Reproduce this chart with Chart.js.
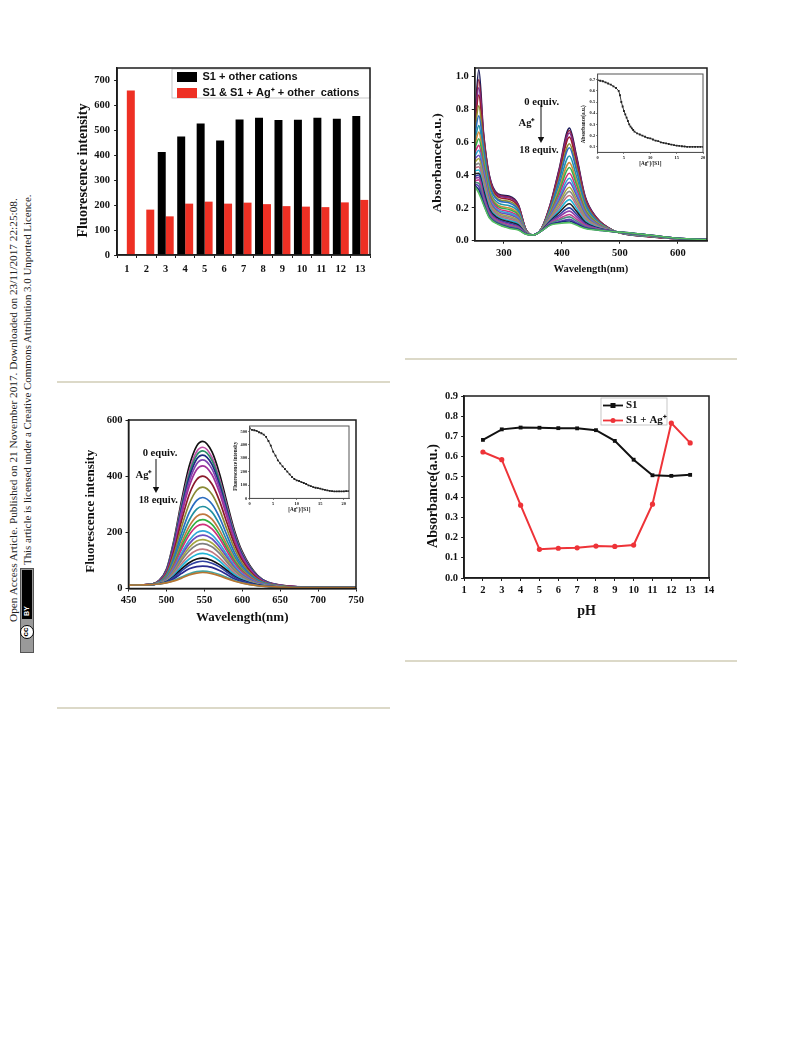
<!DOCTYPE html>
<html>
<head>
<meta charset="utf-8">
<script src="https://cdn.jsdelivr.net/npm/chart.js@4"></script>
<style>
html,body{margin:0;padding:0;background:#fff;width:793px;height:1039px;overflow:hidden}
#page{position:absolute;left:0;top:0;width:793px;height:1039px}
canvas{position:absolute;display:block;filter:blur(.6px)}
.t{position:absolute;white-space:nowrap;font-family:"Liberation Serif",serif;font-weight:bold;color:#111;transform:translate(-50%,-50%);line-height:1;filter:blur(.4px)}
.side{position:absolute;white-space:nowrap;font-family:"Liberation Serif",serif;color:#222;transform-origin:0 0;transform:rotate(-90deg);line-height:1}
.rule{position:absolute;height:2px;background:#dcd9c8}
</style>
</head>
<body>
<div id="page"></div>
<script>
/* ---------- bar chart ---------- */
const barCategories = ["1","2","3","4","5","6","7","8","9","10","11","12","13"];
const barBlack = [null,null,413,475,527,459,543,550,541,542,550,546,557];
const barRed = [660,182,155,206,214,206,210,204,196,194,192,211,221];
const barTicksY = [0,100,200,300,400,500,600,700];

/* ---------- pH chart ---------- */
const phValues = [2,3,4,5,6,7,8,9,10,11,12,13];
const phS1 = [.683,.735,.744,.743,.741,.74,.731,.678,.585,.508,.505,.51];
const phS1Ag = [.623,.585,.36,.142,.147,.149,.158,.156,.163,.365,.766,.668];
const phTicksX = [1,2,3,4,5,6,7,8,9,10,11,12,13,14];
const phTicksY = [0,.1,.2,.3,.4,.5,.6,.7,.8,.9];

/* ---------- absorbance titration (values in thousandths of a.u.) ---------- */
const absWavelengths = [250,257,265,275,290,310,325,338,350,365,380,395,413,425,440,460,490,510,550,600,650];
const absRows = [
[720,1040,660,400,285,270,220,70,35,75,220,430,685,520,270,140,60,40,25,12,5],
[710,980,649,393,280,265,216,69,35,75,217,422,670,509,265,138,60,40,25,12,5],
[700,930,637,386,275,260,212,68,35,74,214,413,655,498,260,136,60,41,26,12,5],
[683,885,618,375,267,251,205,67,35,74,208,399,630,479,251,133,60,41,26,12,5],
[656,820,587,357,254,238,194,65,35,73,199,376,590,450,238,128,59,42,27,12,5],
[638,760,568,346,246,229,188,64,35,72,194,362,565,431,229,124,59,42,27,13,5],
[605,700,530,323,230,212,174,61,35,71,183,334,515,394,212,118,59,43,28,13,6],
[578,660,499,305,217,199,163,59,35,70,174,311,475,365,199,113,58,44,29,13,6],
[557,620,477,292,208,189,155,57,35,69,168,294,445,343,189,109,58,44,29,13,6],
[534,580,450,276,197,177,146,56,35,68,160,275,410,317,177,104,58,45,30,13,6],
[513,550,427,262,187,167,138,54,35,67,154,258,380,295,167,100,57,45,30,13,6],
[496,520,407,251,179,158,131,53,35,66,148,243,355,276,158,97,57,46,31,14,6],
[476,500,385,237,169,148,123,51,35,66,142,227,325,254,148,93,57,46,31,14,6],
[459,470,365,226,161,139,116,50,35,65,136,212,300,235,139,90,57,47,32,14,6],
[442,450,346,215,153,131,109,49,35,64,131,198,275,217,131,87,56,47,32,14,6],
[425,430,327,203,145,122,103,47,35,64,125,184,250,198,122,83,56,48,33,14,6],
[408,410,308,192,137,114,96,46,35,63,120,170,225,180,114,80,56,48,33,14,7],
[391,400,289,181,129,106,89,45,35,62,115,156,200,162,106,77,56,48,33,15,7],
[378,385,274,172,123,99,84,44,35,62,110,145,180,147,99,74,56,49,34,15,7],
[364,370,258,163,116,92,78,43,35,61,106,133,160,132,92,72,55,49,34,15,7],
[354,350,247,156,111,87,74,42,35,61,103,125,145,121,87,70,55,49,34,15,7],
[344,330,235,149,106,82,70,41,35,61,99,116,130,110,82,68,55,50,35,15,7],
[337,310,227,144,103,78,68,41,35,60,97,111,120,102,78,66,55,50,35,15,7],
[330,290,220,140,100,75,65,40,35,60,95,105,110,95,75,65,55,50,35,15,7]
];
const absColors = ["#1a1a5a","#8a1f3a","#7d2c8f","#9a1c2e","#8f8f30","#2a6cc0","#1f95a8","#d08a3a","#35b04a","#d0307a","#30a5d8","#6a50c0","#a5a53f","#8a8a8a","#c07080","#20b5d5","#222222","#3040a0","#8f3fa8","#c04090","#4a8f80","#5a3fb0","#1a2a80","#55c060"];
const absTicksX = [300,400,500,600];
const absTicksY = [0,.2,.4,.6,.8,1];

/* ---------- absorbance inset ---------- */
const absInsetX = [0,.5,1,1.5,2,2.5,3,3.5,4,4.25,4.5,4.75,5,5.25,5.5,5.75,6,6.25,6.5,6.75,7,7.5,8,8.5,9,9.5,10,10.5,11,11.5,12,12.5,13,13.5,14,14.5,15,15.5,16,16.5,17,17.5,18,18.5,19,19.5,20];
const absInsetY = [.695,.69,.685,.675,.665,.655,.64,.625,.6,.56,.5,.46,.42,.39,.36,.33,.3,.28,.265,.25,.235,.22,.21,.2,.19,.18,.175,.165,.155,.15,.14,.135,.13,.125,.12,.115,.11,.108,.105,.103,.1,.1,.1,.1,.1,.1,.1];
const absInsetTicksX = [0,5,10,15,20];
const absInsetTicksY = [.1,.2,.3,.4,.5,.6,.7];

/* ---------- fluorescence titration ---------- */
const fluWavelengths = [450,480,490,500,510,520,530,540,548,560,570,580,590,600,620,650,700,750];
const fluRows = [
[12,15,28,68,173,314,435,508,524,487,409,304,204,131,47,12,4,3],
[12,15,27,65,166,302,417,488,503,468,392,292,196,126,45,12,4,3],
[12,15,27,64,162,294,407,475,490,456,382,284,191,122,44,11,4,3],
[12,15,26,62,157,285,394,461,475,442,370,276,185,119,43,11,4,3],
[12,15,26,60,151,275,380,444,458,426,357,266,179,114,41,11,4,3],
[12,15,25,57,144,262,363,424,437,406,341,253,170,109,39,10,4,3],
[12,15,24,54,134,242,334,388,400,372,312,232,156,100,36,10,4,3],
[12,15,23,50,122,219,301,350,361,336,282,209,141,90,33,9,4,3],
[12,14,22,46,110,197,270,314,324,301,253,188,126,81,30,9,4,3],
[12,14,21,42,100,178,243,283,292,272,228,169,114,73,27,8,4,3],
[12,14,20,39,91,162,221,257,265,247,207,154,103,67,25,8,3,3],
[12,14,20,37,85,150,204,238,245,228,191,142,96,62,23,8,3,3],
[12,14,19,35,80,140,190,221,228,212,178,132,89,58,22,7,3,3],
[12,14,19,33,72,126,171,199,205,191,160,119,80,52,20,7,3,3],
[12,14,18,31,68,117,159,184,190,177,148,110,74,48,19,7,3,3],
[12,14,18,29,63,108,146,169,174,162,136,101,68,44,17,6,3,3],
[12,14,18,28,59,100,134,155,160,149,125,93,63,41,16,6,3,3],
[12,14,17,26,53,88,118,136,140,130,109,82,55,36,15,6,3,3],
[12,14,17,25,48,79,105,121,125,116,98,73,49,33,14,5,3,3],
[12,14,17,24,43,70,92,105,108,100,85,64,43,29,13,5,3,3],
[12,14,17,23,40,63,83,94,97,90,77,58,40,27,12,5,3,3],
[12,14,16,22,35,54,70,78,80,75,64,49,34,23,11,5,3,3],
[12,14,16,21,29,41,52,60,62,58,50,39,28,20,10,5,3,3],
[12,14,16,20,27,37,48,55,57,53,45,35,26,19,10,5,3,3]
];
const fluColors = ["#111111","#c050a8","#2a8f68","#1c2a80","#7f45b0","#a0309a","#8b1a2b","#8a8a35","#2a6cc0","#2090a0","#c07840","#30b040","#d0307a","#30a8d8","#6a50c0","#a5a540","#808080","#c07880","#20b5d5","#111111","#3040a0","#2a2a90","#40a5a5","#b87530"];
const fluTicksX = [450,500,550,600,650,700,750];
const fluTicksY = [0,200,400,600];

/* ---------- fluorescence inset ---------- */
const fluInsetX = [0,.5,1,1.5,2,2.5,3,3.5,4,4.5,5,5.5,6,6.5,7,7.5,8,8.5,9,9.5,10,10.5,11,11.5,12,12.5,13,13.5,14,14.5,15,15.5,16,16.5,17,17.5,18,18.5,19,19.5,20,20.5,21];
const fluInsetY = [525,513,510,505,495,488,478,460,430,395,350,320,285,262,240,220,200,180,160,145,135,130,122,115,108,98,92,85,80,77,73,68,64,60,56,54,52,52,53,52,53,54,54];
const fluInsetTicksX = [0,5,10,15,20];
const fluInsetTicksY = [0,100,200,300,400,500];

/* ---------- helpers ---------- */
const page = document.getElementById('page');
const SERIF = '"Liberation Serif", serif';
const SANS = '"Liberation Sans", sans-serif';
const AX = '#1c1c1c';

const framePlugin = {
  id:'frame',
  afterDatasetsDraw(chart, a, o){
    const c=chart.chartArea, x=chart.ctx;
    x.save(); x.strokeStyle=o.color||AX; x.lineWidth=o.width||1.5;
    x.strokeRect(c.left,c.top,c.right-c.left,c.bottom-c.top); x.restore();
  }
};
const legendPlace = {
  id:'legendPlace',
  afterLayout(chart, a, o){
    if(!o.left) return;
    const L=chart.legend, r=chart.canvas.getBoundingClientRect();
    L.left=o.left-r.left; L.top=o.top-r.top; L.right=L.left+o.width; L.bottom=L.top+o.height;
  },
  beforeDraw(chart, a, o){
    if(!o.box) return;
    const r=chart.canvas.getBoundingClientRect(), x=chart.ctx, b=o.box;
    x.save(); x.fillStyle='#fff'; x.strokeStyle='#b8b8b8'; x.lineWidth=.8;
    x.fillRect(b[0]-r.left,b[1]-r.top,b[2],b[3]);
    x.strokeRect(b[0]-r.left,b[1]-r.top,b[2],b[3]);
    x.restore();
  }
};

function make(g, type, data, s){
  const xTitleH = (g.xc - g.b) + s.xFont/2 + 2;
  const yTitleW = (g.l - g.yc) + s.yFont/2 + 2;
  const T = g.T===undefined?8:g.T, R = g.R===undefined?10:g.R;
  const cv = document.createElement('canvas');
  const w = yTitleW + (g.r-g.l) + R, h = T + (g.b-g.t) + xTitleH;
  cv.width=Math.round(w); cv.height=Math.round(h);
  cv.style.left=Math.round(g.l-yTitleW)+'px'; cv.style.top=(g.t-T)+'px';
  cv.style.width=cv.width+'px'; cv.style.height=cv.height+'px';
  page.appendChild(cv);
  const common = (ticks, fmt, pad) => ({
    grid:{drawOnChartArea:false,drawTicks:true,tickLength:s.tick||3,color:AX,lineWidth:s.tickW||1},
    border:{display:true,color:AX,width:s.bw||1.5},
    ticks:{font:{family:SERIF,weight:'bold',size:s.tickFont},color:'#111',padding:pad,maxRotation:0,minRotation:0,autoSkip:false,callback:fmt},
    afterBuildTicks:ticks?(sc=>{sc.ticks=ticks.map(v=>({value:v}));}):undefined
  });
  const xAxis = Object.assign(common(s.xTicks,s.xFmt,s.xPad),{
    type:s.xType||'linear',
    title:{display:!!s.xTitle,text:s.xTitle,color:'#111',font:{family:SERIF,weight:'bold',size:s.xFont,lineHeight:1},padding:{top:0,bottom:2}},
    afterFit(sc){sc.height=xTitleH;sc.paddingLeft=0;sc.paddingRight=0;}
  });
  if(s.xMin!==undefined){xAxis.min=s.xMin;xAxis.max=s.xMax;}
  const yAxis = Object.assign(common(s.yTicks,s.yFmt,s.yPad),{
    type:'linear',min:s.yMin,max:s.yMax,
    title:{display:true,text:s.yTitle,color:'#111',font:{family:SERIF,weight:'bold',size:s.yFont,lineHeight:1},padding:{top:2,bottom:0}},
    afterFit(sc){
      sc.width=yTitleW;sc.paddingTop=0;sc.paddingBottom=0;
      if(!sc._shifted){
        const o=sc.drawTitle, dy=s.yShift||0;
        sc.drawTitle=function(){const c=this.ctx;c.save();c.translate(0,dy);o.call(this);c.restore();};
        sc._shifted=true;
      }
    }
  });
  return new Chart(cv,{
    type, data,
    plugins:[framePlugin,legendPlace],
    options:{
      responsive:false,animation:false,devicePixelRatio:1,
      layout:{padding:{top:T,right:R,left:0,bottom:0}},
      scales:{x:xAxis,y:yAxis},
      plugins:{
        legend:s.legend||{display:false},
        tooltip:{enabled:false},
        legendPlace:s.place||{},
        frame:{width:s.frameW||1.5,color:s.frameColor||AX}
      }
    }
  });
}
const xy=(xs,ys)=>xs.map((v,i)=>({x:v,y:ys[i]}));
const lineKey=(col,mark)=>{
  const c=document.createElement('canvas');c.width=20;c.height=7;
  const x=c.getContext('2d');x.strokeStyle=col;x.fillStyle=col;x.lineWidth=1.8;
  x.beginPath();x.moveTo(0,3.5);x.lineTo(20,3.5);x.stroke();
  if(mark==='rect')x.fillRect(7.5,1,5,5);else{x.beginPath();x.arc(10,3.5,2.5,0,7);x.fill();}
  return c;
};

/* ---------- bar chart ---------- */
make({l:117,t:68,r:370,b:255,xc:272,yc:83},'bar',{
  labels:barCategories,
  datasets:[
    {label:'S1 + other cations',data:barBlack,backgroundColor:'#000000',barPercentage:1,categoryPercentage:.82},
    {label:'S1 & S1 + Ag\u207A + other  cations',data:barRed,backgroundColor:'#ee3024',barPercentage:1,categoryPercentage:.82}
  ]
},{
  xType:'category',xTitle:'',xFont:10,yTitle:'Fluorescence intensity',yFont:14.2,yShift:9,
  tickFont:10.5,xPad:5,yPad:4,yMin:0,yMax:750,yTicks:barTicksY,
  xFmt:(v,i)=>barCategories[i],yFmt:v=>v,
  legend:{display:true,position:'chartArea',align:'start',
    labels:{boxWidth:20,boxHeight:10,padding:5,color:'#111',font:{family:SANS,weight:'bold',size:11}}},
  place:{left:172,top:66.5,width:198,height:70,box:[172,69,198,29]}
});

/* ---------- absorbance titration ---------- */
make({l:475,t:68,r:707,b:241,xc:270,yc:438,R:14},'line',{
  datasets:absRows.map((row,i)=>({label:String(i),data:xy(absWavelengths,row.map(v=>v/1000)),borderColor:absColors[i],borderWidth:1.6,pointRadius:0,cubicInterpolationMode:'monotone',order:absRows.length-i}))
},{
  xTitle:'Wavelength(nm)',xFont:10.5,yTitle:'Absorbance(a.u.)',yFont:13.5,yShift:8.5,
  tickFont:10.5,xPad:3,yPad:3,xMin:250,xMax:650,yMin:0,yMax:1.05,xTicks:absTicksX,yTicks:absTicksY,
  xFmt:v=>v,yFmt:v=>Number(v).toFixed(1)
});

/* ---------- absorbance inset ---------- */
make({l:598,t:73,r:703,b:152,xc:163,yc:584,T:3,R:4},'line',{
  datasets:[{label:'inset',data:xy(absInsetX,absInsetY),borderColor:'#222',borderWidth:.9,pointStyle:'rect',pointRadius:1.3,pointBackgroundColor:'#222',pointBorderWidth:0}]
},{
  xTitle:'[Ag\u207A]/[S1]',xFont:5.2,yTitle:'Absorbance(a.u.)',yFont:5.2,yShift:11,
  tickFont:4.4,tick:1.5,tickW:.6,bw:.8,frameW:1,frameColor:'#555',xPad:1.5,yPad:1,xMin:0,xMax:20,yMin:.05,yMax:.75,
  xTicks:absInsetTicksX,yTicks:absInsetTicksY,xFmt:v=>v,yFmt:v=>Number(v).toFixed(1)
});

/* ---------- fluorescence titration ---------- */
make({l:128,t:420,r:355,b:588,xc:617,yc:90,R:14},'line',{
  datasets:fluRows.map((row,i)=>({label:String(i),data:xy(fluWavelengths,row),borderColor:fluColors[i],borderWidth:1.7,pointRadius:0,cubicInterpolationMode:'monotone',order:fluRows.length-i}))
},{
  xTitle:'Wavelength(nm)',xFont:13,yTitle:'Fluorescence intensity',yFont:13,yShift:7,
  tickFont:10.5,xPad:2.5,yPad:3,xMin:450,xMax:750,yMin:0,yMax:600,xTicks:fluTicksX,yTicks:fluTicksY,
  xFmt:v=>v,yFmt:v=>v
});

/* ---------- fluorescence inset ---------- */
make({l:250,t:425,r:349,b:498,xc:509,yc:236,T:3,R:4},'line',{
  datasets:[{label:'inset',data:xy(fluInsetX,fluInsetY),borderColor:'#222',borderWidth:.9,pointStyle:'rect',pointRadius:1.3,pointBackgroundColor:'#222',pointBorderWidth:0}]
},{
  xTitle:'[Ag\u207A]/[S1]',xFont:5.2,yTitle:'Fluorescence intensity',yFont:5.2,yShift:4,
  tickFont:4.4,tick:1.5,tickW:.6,bw:.8,frameW:1,frameColor:'#555',xPad:1.5,yPad:1,xMin:0,xMax:21.1,yMin:0,yMax:542,
  xTicks:fluInsetTicksX,yTicks:fluInsetTicksY,xFmt:v=>v,yFmt:v=>v
});

/* ---------- pH chart ---------- */
make({l:464,t:396,r:709,b:578,xc:611,yc:433,R:14},'line',{
  datasets:[
    {label:'S1',data:xy(phValues,phS1),borderColor:'#111',backgroundColor:'#111',borderWidth:2,pointStyle:'rect',pointRadius:2.7,pointBorderWidth:0,pointBackgroundColor:'#111'},
    {label:'S1 + Ag\u207A',data:xy(phValues,phS1Ag),borderColor:'#ee3338',backgroundColor:'#ee3338',borderWidth:2,pointStyle:'circle',pointRadius:2.6,pointBorderWidth:0,pointBackgroundColor:'#ee3338'}
  ]
},{
  xTitle:'pH',xFont:14,yTitle:'Absorbance(a.u.)',yFont:14.2,yShift:9,
  tickFont:10.5,xPad:3,yPad:3,xMin:1,xMax:14,yMin:0,yMax:.9,xTicks:phTicksX,yTicks:phTicksY,
  xFmt:v=>v,yFmt:v=>Number(v).toFixed(1),
  legend:{display:true,position:'chartArea',align:'start',
    labels:{usePointStyle:true,pointStyleWidth:15,boxHeight:10,padding:4,color:'#111',font:{family:SERIF,weight:'bold',size:11},
      generateLabels(chart){
        return Chart.defaults.plugins.legend.labels.generateLabels(chart).map((it,i)=>{
          it.pointStyle=i?lineKey('#ee3338','circle'):lineKey('#111','rect');return it;});
      }}},
  place:{left:601.5,top:396,width:72,height:70,box:[601,398,66,27]}
});

/* ---------- annotations and page furniture ---------- */
function label(txt,x,y,size){
  const d=document.createElement('div');d.className='t';d.textContent=txt;
  d.style.left=x+'px';d.style.top=y+'px';d.style.fontSize=size+'px';page.appendChild(d);
}
label('0 equiv.',541.7,101.7,10.6);label('Ag\u207A',527,122.7,10.6);label('18 equiv.',539,149.7,10.4);
label('0 equiv.',160,452.7,10.6);label('Ag\u207A',144,475,10.6);label('18 equiv.',158.3,500,10.4);

function arrow(x,y1,y2){
  const s=document.createElementNS('http://www.w3.org/2000/svg','svg');
  s.setAttribute('width',10);s.setAttribute('height',y2-y1+2);
  s.style.cssText=`position:absolute;left:${x-5}px;top:${y1}px`;
  s.innerHTML=`<line x1="5" y1="0" x2="5" y2="${y2-y1-4}" stroke="#111" stroke-width="1"/><path d="M1.8 ${y2-y1-6}L8.2 ${y2-y1-6}L5 ${y2-y1}Z" fill="#111"/>`;
  page.appendChild(s);
}
arrow(541,105,143);arrow(156,459,493);

[[57,381,333],[57,707,333],[405,358,332],[405,660,332]].forEach(r=>{
  const d=document.createElement('div');d.className='rule';
  d.style.left=r[0]+'px';d.style.top=r[1]+'px';d.style.width=r[2]+'px';page.appendChild(d);
});

function side(txt,x,y,size){
  const d=document.createElement('div');d.className='side';d.textContent=txt;
  d.style.left=x+'px';d.style.top=y+'px';d.style.fontSize=size+'px';page.appendChild(d);
}
side('Open Access Article. Published on 21 November 2017. Downloaded on 23/11/2017 22:25:08.',7.5,622,11.3);
side('This article is licensed under a Creative Commons Attribution 3.0 Unported Licence.',22,565,10.9);

const badge=document.createElement('div');
badge.style.cssText='position:absolute;left:20px;top:568px;width:14px;height:85px;background:#9a9a9a;box-sizing:border-box;border:1px solid #555';
badge.innerHTML='<div style="position:absolute;left:1px;top:1px;width:10px;height:49px;background:#000"></div>'+
 '<div style="position:absolute;left:0;top:36px;width:12px;height:12px;color:#fff;font:bold 7px \'Liberation Sans\',sans-serif;line-height:12px;text-align:center;transform:rotate(-90deg)">BY</div>'+
 '<div style="position:absolute;left:-1px;top:56px;width:14px;height:14px;box-sizing:border-box;border:1.5px solid #000;border-radius:50%;background:#fff;color:#000;font:bold 8px \'Liberation Sans\',sans-serif;line-height:10px;text-align:center;transform:rotate(-90deg)">cc</div>';
page.appendChild(badge);
</script>
</body>
</html>
